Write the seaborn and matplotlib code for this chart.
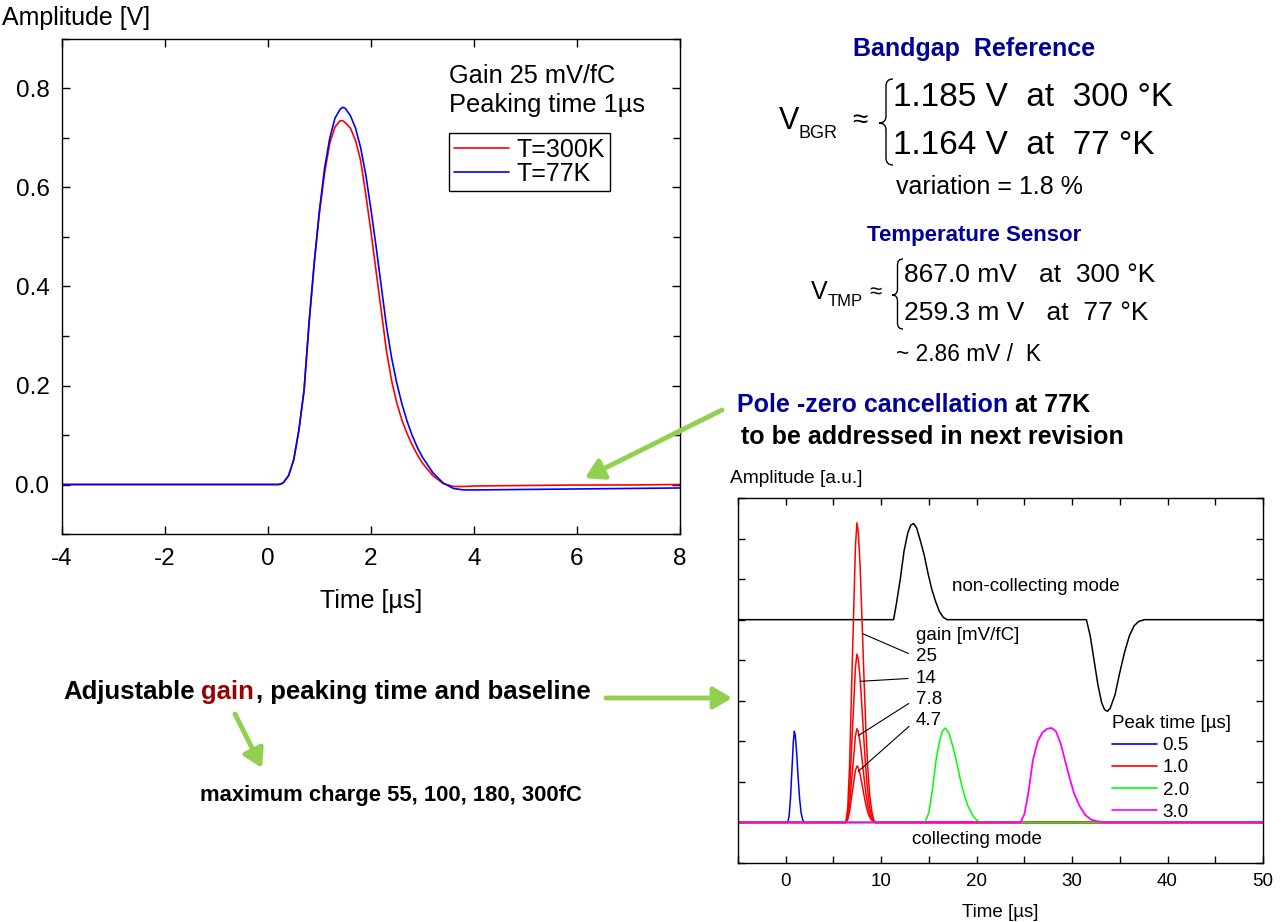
import matplotlib.pyplot as plt
import seaborn as sns
from matplotlib.path import Path
from matplotlib.patches import PathPatch, FancyArrowPatch
from matplotlib.lines import Line2D
from matplotlib.ticker import MultipleLocator

W, H = 1284, 922

# =========================
# Left chart: shaper output at two temperatures
# =========================
t_pulse = [-4, 0.2, 0.25, 0.3, 0.4, 0.5, 0.6, 0.7, 0.8, 0.9, 1.0, 1.1, 1.2, 1.3, 1.4, 1.45,
           1.5, 1.6, 1.7, 1.8, 1.9, 2.0, 2.1, 2.2, 2.3, 2.4, 2.5, 2.6, 2.7, 2.8, 2.9,
           3.0, 3.2, 3.4, 3.6, 3.8, 4.0, 5.0, 6.0, 7.0, 8.0]
amp_300k = [0.0, 0.0, 0.001, 0.004, 0.018, 0.05, 0.11, 0.19, 0.33, 0.45, 0.55, 0.63, 0.69, 0.722, 0.735, 0.735,
            0.731, 0.72, 0.695, 0.654, 0.585, 0.51, 0.43, 0.35, 0.27, 0.21, 0.165, 0.13, 0.103, 0.08, 0.06,
            0.043, 0.018, 0.002, -0.004, -0.004, -0.003, -0.002, -0.001, -0.001, 0.0]
amp_77k = [0.0, 0.0, 0.001, 0.004, 0.018, 0.05, 0.11, 0.19, 0.33, 0.45, 0.555, 0.64, 0.70, 0.74, 0.758, 0.762,
           0.76, 0.745, 0.72, 0.68, 0.625, 0.555, 0.48, 0.40, 0.32, 0.256, 0.205, 0.163, 0.128, 0.099, 0.075,
           0.055, 0.024, 0.003, -0.008, -0.011, -0.011, -0.010, -0.009, -0.008, -0.007]

# =========================
# Right chart: gain / peaking time scan
# =========================
t_05 = [-5, 0.2, 0.35, 0.5, 0.65, 0.8, 0.9, 1.0, 1.15, 1.3, 1.45, 1.6, 1.8, 2.0, 50]
a_05 = [0, 0, 0.15, 0.6, 1.3, 2.0, 2.25, 2.15, 1.7, 1.1, 0.6, 0.25, 0.05, 0, 0]

t_10 = [-5, 6.3, 6.5, 6.7, 6.9, 7.1, 7.3, 7.46, 7.6, 7.8, 8.0, 8.2, 8.4, 8.6, 8.8, 9.0, 9.2, 9.4, 50]
a_10_g25 = [0, 0, 0.37, 1.48, 3.33, 5.03, 6.8, 7.39, 7.17, 6.28, 4.95, 3.55, 2.29, 1.33, 0.67, 0.3, 0.07, 0, 0]
a_10_g14 = [0, 0, 0.21, 0.83, 1.87, 2.82, 3.82, 4.15, 4.03, 3.53, 2.78, 1.99, 1.29, 0.75, 0.37, 0.17, 0.04, 0, 0]
a_10_g78 = [0, 0, 0.12, 0.46, 1.04, 1.57, 2.13, 2.31, 2.24, 1.96, 1.55, 1.11, 0.72, 0.42, 0.21, 0.09, 0.02, 0, 0]
a_10_g47 = [0, 0, 0.07, 0.28, 0.63, 0.95, 1.28, 1.39, 1.35, 1.18, 0.93, 0.67, 0.43, 0.25, 0.13, 0.06, 0.01, 0, 0]

t_20 = [-5, 14.6, 15.0, 15.4, 15.75, 16.1, 16.4, 16.73, 17.1, 17.5, 17.86, 18.3, 18.7, 19.1, 19.6, 20.0, 20.4, 50]
a_20 = [0, 0, 0.25, 0.85, 1.54, 2.0, 2.25, 2.33, 2.2, 1.88, 1.54, 1.05, 0.68, 0.4, 0.17, 0.06, 0, 0]

t_30 = [-5, 24.6, 25.0, 25.4, 25.9, 26.4, 26.9, 27.4, 27.85, 28.3, 28.8, 29.25, 29.8, 30.2, 30.8, 31.4, 32.0, 32.8, 33.6, 50]
a_30 = [0, 0, 0.2, 0.7, 1.54, 2.0, 2.22, 2.31, 2.33, 2.25, 1.95, 1.54, 1.05, 0.72, 0.4, 0.18, 0.07, 0.02, 0, 0]

t_nc = [-5, 11.3, 11.6, 12.0, 12.4, 12.8, 13.1, 13.38, 13.7, 14.1, 14.5, 14.9, 15.3, 15.7, 16.1, 16.5, 16.9,
        31.5, 31.9, 32.3, 32.7, 33.1, 33.4, 33.7, 34.0, 34.5, 35.0, 35.5, 36.0, 36.5, 37.0, 37.6, 50]
a_nc = [5, 5, 5.4, 6.0, 6.7, 7.15, 7.33, 7.37, 7.27, 6.95, 6.6, 6.15, 5.75, 5.45, 5.2, 5.06, 5.0,
        5.0, 4.6, 4.0, 3.4, 2.95, 2.78, 2.74, 2.82, 3.15, 3.7, 4.2, 4.6, 4.85, 4.96, 5.0, 5.0]

peak_labels = ["0.5", "1.0", "2.0", "3.0"]
peak_colors = ["#0000FF", "#FF0000", "#00FF00", "#FF00FF"]
gain_labels = ["25", "14", "7.8", "4.7"]

# =========================
# Style
# =========================
sns.set_style("white")
plt.rcParams['font.family'] = ['Liberation Sans', 'DejaVu Sans']
plt.rcParams['axes.unicode_minus'] = False
plt.rcParams['axes.edgecolor'] = 'black'
plt.rcParams['axes.linewidth'] = 1.0
plt.rcParams['text.color'] = 'black'
plt.rcParams['axes.labelcolor'] = 'black'
plt.rcParams['xtick.color'] = 'black'
plt.rcParams['ytick.color'] = 'black'

NAVY = '#000099'
GREEN = '#92D050'


def px(x, y):
    return (x / W, 1 - y / H)


fig = plt.figure(figsize=(W / 100, H / 100), dpi=100)

# =========================
# Left chart
# =========================
ax1 = fig.add_axes([62 / W, 1 - 534 / H, (680 - 62) / W, (534 - 39) / H])
sns.lineplot(x=t_pulse, y=amp_300k, color='#FF0000', lw=1.2, ax=ax1, estimator=None, sort=False, label='T=300K')
sns.lineplot(x=t_pulse, y=amp_77k, color='#0000FF', lw=1.2, ax=ax1, estimator=None, sort=False, label='T=77K')
ax1.set_xlim(-4, 8)
ax1.set_ylim(-0.1, 0.9)
ax1.xaxis.set_major_locator(MultipleLocator(2))
ax1.yaxis.set_major_locator(MultipleLocator(0.2))
ax1.yaxis.set_minor_locator(MultipleLocator(0.1))
ax1.tick_params(which='both', direction='in', top=True, right=True, bottom=True, left=True,
                color='black', labelsize=17.5, width=1)
ax1.tick_params(which='major', length=6, pad=10)
ax1.tick_params(which='minor', length=5)
ax1.tick_params(axis='y', which='major', pad=9)
ax1.set_xlabel("Time [µs]", fontsize=18, labelpad=14)
ax1.set_ylabel("")
for s in ax1.spines.values():
    s.set_visible(True)
    s.set_color('black')
ax1.legend(loc='upper left', bbox_to_anchor=px(449, 133), bbox_transform=fig.transFigure,
           borderaxespad=0, fontsize=18, frameon=True, fancybox=False, edgecolor='black',
           framealpha=1, handlelength=2.2, handletextpad=0.3, labelspacing=0.0, borderpad=0.2)
ax1.get_legend().get_frame().set_linewidth(1.0)

fig.text(*px(2, 18), "Amplitude [V]", fontsize=18, ha='left', va='center')
fig.text(*px(449, 76), "Gain 25 mV/fC", fontsize=18.3, ha='left', va='center')
fig.text(*px(449, 105), "Peaking time 1µs", fontsize=18.3, ha='left', va='center')

# =========================
# Right chart
# =========================
ax2 = fig.add_axes([738 / W, 1 - 863 / H, (1263 - 738) / W, (863 - 498) / H])
sns.lineplot(x=t_nc, y=a_nc, color='black', lw=1.1, ax=ax2, estimator=None, sort=False)
sns.lineplot(x=t_05, y=a_05, color=peak_colors[0], lw=1.1, ax=ax2, estimator=None, sort=False)
for a in [a_10_g25, a_10_g14, a_10_g78, a_10_g47]:
    sns.lineplot(x=t_10, y=a, color=peak_colors[1], lw=1.1, ax=ax2, estimator=None, sort=False)
sns.lineplot(x=t_20, y=a_20, color=peak_colors[2], lw=1.1, ax=ax2, estimator=None, sort=False)
sns.lineplot(x=t_30, y=a_30, color=peak_colors[3], lw=1.3, ax=ax2, estimator=None, sort=False)
ax2.set_xlim(-5, 50)
ax2.set_ylim(-1, 8)
ax2.xaxis.set_major_locator(MultipleLocator(10))
ax2.xaxis.set_minor_locator(MultipleLocator(5))
ax2.yaxis.set_major_locator(MultipleLocator(1))
ax2.set_yticklabels([])
ax2.tick_params(which='both', direction='in', top=True, right=True, bottom=True, left=True,
                color='black', labelsize=13.5, length=5, width=1, pad=7)
ax2.set_xlabel("Time [µs]", fontsize=13.5, labelpad=10)
for s in ax2.spines.values():
    s.set_visible(True)
    s.set_color('black')

handles = [Line2D([], [], color=c, lw=1.2) for c in peak_colors]
leg = ax2.legend(handles, peak_labels, title="Peak time [µs]", loc='upper left',
                 bbox_to_anchor=px(1112, 715), bbox_transform=fig.transFigure, borderaxespad=0,
                 borderpad=0, frameon=False, fontsize=13.5, title_fontsize=13.5,
                 handlelength=2.4, handletextpad=0.3, labelspacing=0.27, alignment='left')

ax2.text(13.6, 4.62, "gain [mV/fC]", fontsize=13.5, ha='left', va='center')
gain_text_y = [4.09, 3.56, 3.04, 2.51]
gain_points = [(8.1, 4.65), (7.8, 3.48), (7.6, 2.14), (7.6, 1.26)]
for lab, ty, pt in zip(gain_labels, gain_text_y, gain_points):
    ax2.annotate(lab, xy=pt, xytext=(13.6, ty), fontsize=13.5, ha='left', va='center',
                 arrowprops=dict(arrowstyle='-', color='black', lw=0.8, shrinkA=3, shrinkB=0,
                                 relpos=(0, 0.5)))
ax2.text(17.4, 5.83, "non-collecting mode", fontsize=13.5, ha='left', va='center')
ax2.text(13.26, -0.42, "collecting mode", fontsize=13.5, ha='left', va='center')
fig.text(*px(730, 478), "Amplitude [a.u.]", fontsize=13.8, ha='left', va='center')

# =========================
# Side notes
# =========================
fig.text(*px(974, 49), "Bandgap  Reference", fontsize=18, fontweight='bold', color=NAVY,
         ha='center', va='center')
fig.text(*px(779, 121), "V", fontsize=22, ha='left', va='center')
fig.text(*px(798, 133), "BGR", fontsize=13, ha='left', va='center')
fig.text(*px(852, 121), "≈", fontsize=20, ha='left', va='center')
fig.text(*px(893, 98), "1.185 V  at  300 °K", fontsize=24, ha='left', va='center')
fig.text(*px(893, 146), "1.164 V  at  77 °K", fontsize=24, ha='left', va='center')
fig.text(*px(896, 187), "variation = 1.8 %", fontsize=18, ha='left', va='center')

fig.text(*px(974, 235), "Temperature Sensor", fontsize=16, fontweight='bold', color=NAVY,
         ha='center', va='center')
fig.text(*px(811, 292), "V", fontsize=18, ha='left', va='center')
fig.text(*px(828, 302), "TMP", fontsize=12, ha='left', va='center')
fig.text(*px(869, 293), "≈", fontsize=16, ha='left', va='center')
fig.text(*px(904, 275), "867.0 mV   at  300 °K", fontsize=19, ha='left', va='center')
fig.text(*px(904, 313), "259.3 m V   at  77 °K", fontsize=19, ha='left', va='center')
fig.text(*px(896, 354), "~ 2.86 mV /  K", fontsize=16.4, ha='left', va='center')


def brace(x_tip, x_end, y_top, y_bot, y_tip, r=7):
    xm = (x_tip + x_end) / 2
    verts = [(x_end, y_top), (xm, y_top), (xm, y_top + r),
             (xm, y_tip - r), (xm, y_tip), (x_tip, y_tip),
             (xm, y_tip), (xm, y_tip + r),
             (xm, y_bot - r), (xm, y_bot), (x_end, y_bot)]
    codes = [Path.MOVETO, Path.CURVE3, Path.CURVE3, Path.LINETO, Path.CURVE3, Path.CURVE3,
             Path.CURVE3, Path.CURVE3, Path.LINETO, Path.CURVE3, Path.CURVE3]
    path = Path([px(x, y) for x, y in verts], codes)
    fig.add_artist(PathPatch(path, fill=False, lw=1.0, edgecolor='black', transform=fig.transFigure))


brace(879, 893, 79, 165, 123)
brace(892, 903, 259, 329, 295, r=6)

fig.text(*px(737, 405), "Pole -zero cancellation", fontsize=18, fontweight='bold', color=NAVY,
         ha='left', va='center')
fig.text(*px(1015, 405), "at 77K", fontsize=18, fontweight='bold', color='black',
         ha='left', va='center')
fig.text(*px(741, 437), "to be addressed in next revision", fontsize=18, fontweight='bold',
         ha='left', va='center')

fig.text(*px(63, 692), "Adjustable", fontsize=18.5, fontweight='bold', ha='left', va='center')
fig.text(*px(201, 692), "gain", fontsize=18.5, fontweight='bold', color='#990000', ha='left', va='center')
fig.text(*px(256, 692), ", peaking time and baseline", fontsize=18.5, fontweight='bold',
         ha='left', va='center')
fig.text(*px(200, 795), "maximum charge 55, 100, 180, 300fC", fontsize=15.8, fontweight='bold',
         ha='left', va='center')

for a, b in [((722, 410), (585, 478)), ((606, 698), (732, 698)), ((235, 714), (262, 768))]:
    fig.add_artist(FancyArrowPatch(px(*a), px(*b), transform=fig.transFigure,
                                   arrowstyle='-|>,head_length=0.5,head_width=0.3',
                                   mutation_scale=22, color=GREEN, lw=3.5, shrinkA=0, shrinkB=0))

fig.savefig("out.png", dpi=100)
